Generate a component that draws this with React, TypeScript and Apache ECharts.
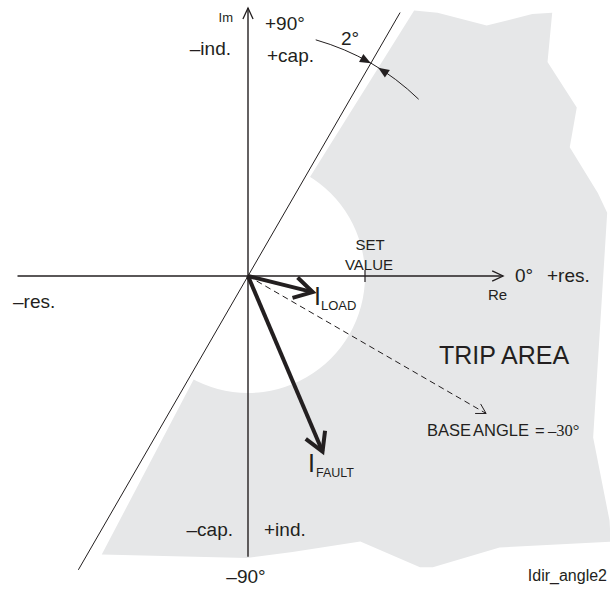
import React, { useEffect, useRef } from "react";
import * as echarts from "echarts";

// ---- Diagram data (units: 1 = set value magnitude) ----
const SET_VALUE = 1.0;
const BASE_ANGLE = -30; // degrees
const BOUNDARY_MARGIN = 2; // degrees
const CHAR_LINE_EXTENT = [-2.9, 2.6]; // along the characteristic line (base + 90°)
const RE_AXIS = [-1.97, 2.18];
const IM_AXIS = [-2.4, 2.29];
const BASE_ARROW_LENGTH = 2.35;
const MARGIN_ARC_RADIUS = 2.1;
const MARGIN_ARC_ANGLES = [74, 46];

// outer (jagged) limit of the trip area, clockwise from the +58° ray to the -118° ray
const tripOuterX = [1.42, 1.62, 2.04, 2.43, 2.6, 2.56, 2.81, 2.75, 2.99, 3.07, 2.95, 3.09, 3.1, 2.15, 1.58, 1.47, 0.96, 0.38, -0.01, -1.25];
const tripOuterY = [2.27, 2.25, 2.14, 2.24, 2.25, 1.83, 1.44, 1.1, 0.71, 0.54, -1.38, -2.09, -2.27, -2.32, -2.49, -2.49, -2.27, -2.36, -2.41, -2.38];

const phasorNames = ["LOAD", "FAULT"];
const phasorMagnitudes = [0.57, 1.63];
const phasorAngles = [-14, -67];

// ---- layout ----
const W = 610;
const H = 590;
const OX = 248;
const OY = 276;
const SCALE = 117;
const INK = "#231f20";
const GREY = "#e6e7e8";
const SANS = '"Liberation Sans", Arial, Helvetica, sans-serif';
const SERIF = '"Liberation Serif", "Times New Roman", serif';

const rad = (d: number) => (d * Math.PI) / 180;
const polar = (r: number, deg: number) => [r * Math.cos(rad(deg)), r * Math.sin(rad(deg))];

function arms(tip: number[], from: number[], len: number, half: number) {
  const dx = tip[0] - from[0];
  const dy = tip[1] - from[1];
  const l = Math.hypot(dx, dy) || 1;
  const ux = -dx / l;
  const uy = -dy / l;
  const a = rad(half);
  const r1 = [ux * Math.cos(a) - uy * Math.sin(a), ux * Math.sin(a) + uy * Math.cos(a)];
  const r2 = [ux * Math.cos(-a) - uy * Math.sin(-a), ux * Math.sin(-a) + uy * Math.cos(-a)];
  return [
    [tip[0] + r1[0] * len, tip[1] + r1[1] * len],
    tip,
    [tip[0] + r2[0] * len, tip[1] + r2[1] * len],
  ];
}

function triangle(tip: number[], from: number[], len: number, halfW: number) {
  const dx = tip[0] - from[0];
  const dy = tip[1] - from[1];
  const l = Math.hypot(dx, dy) || 1;
  const ux = dx / l;
  const uy = dy / l;
  const bx = tip[0] - ux * len;
  const by = tip[1] - uy * len;
  return [tip, [bx - uy * halfW, by + ux * halfW], [bx + uy * halfW, by - ux * halfW]];
}

function text(t: string, x: number, y: number, size: number, align = "left", family = SANS) {
  return {
    type: "text",
    x,
    y,
    z: 100,
    silent: true,
    style: { text: t, font: `${size}px ${family}`, fill: INK, align, verticalAlign: "middle" },
  };
}

export default function App() {
  const ref = useRef<HTMLDivElement>(null);
  useEffect(() => {
    const chart = echarts.init(ref.current!, null, { renderer: "svg" });
    const charAngle = BASE_ANGLE + 90;
    const option: any = {
      animation: false,
      backgroundColor: "#ffffff",
      grid: { left: 0, right: 0, top: 0, bottom: 0 },
      xAxis: { type: "value", min: -OX / SCALE, max: (W - OX) / SCALE, show: false },
      yAxis: { type: "value", min: -(H - OY) / SCALE, max: OY / SCALE, show: false },
      series: [
        {
          name: "Trip area",
          type: "custom",
          silent: true,
          z: 1,
          data: [[0, 0]],
          renderItem: (_p: any, api: any) => {
            const o = api.coord([0, 0]);
            const pts = [o, ...tripOuterX.map((x, i) => api.coord([x, tripOuterY[i]]))];
            const r = api.size([SET_VALUE, 0])[0];
            return {
              type: "group",
              children: [
                { type: "polygon", shape: { points: pts }, style: { fill: GREY } },
                { type: "circle", shape: { cx: o[0], cy: o[1], r }, style: { fill: "#ffffff" } },
              ],
            };
          },
        },
        {
          name: "Axes",
          type: "custom",
          silent: true,
          z: 3,
          data: [
            [RE_AXIS[0], 0, RE_AXIS[1], 0],
            [0, IM_AXIS[0], 0, IM_AXIS[1]],
          ],
          renderItem: (_p: any, api: any) => {
            const a = api.coord([api.value(0), api.value(1)]);
            const b = api.coord([api.value(2), api.value(3)]);
            return {
              type: "group",
              children: [
                { type: "line", shape: { x1: a[0], y1: a[1], x2: b[0], y2: b[1] }, style: { stroke: INK, lineWidth: 1.4 } },
                { type: "polyline", shape: { points: arms(b, a, 12, 25) }, style: { stroke: INK, fill: null, lineWidth: 1.3 } },
              ],
            };
          },
        },
        {
          name: "Set value",
          type: "custom",
          silent: true,
          z: 3,
          data: [[SET_VALUE, 0]],
          renderItem: (_p: any, api: any) => {
            const c = api.coord([api.value(0), api.value(1)]);
            return { type: "line", shape: { x1: c[0], y1: c[1] - 6, x2: c[0], y2: c[1] + 6 }, style: { stroke: INK, lineWidth: 1.2 } };
          },
        },
        {
          name: "Characteristic",
          type: "custom",
          silent: true,
          z: 3,
          data: [[...polar(CHAR_LINE_EXTENT[0], charAngle), ...polar(CHAR_LINE_EXTENT[1], charAngle)]],
          renderItem: (_p: any, api: any) => {
            const a = api.coord([api.value(0), api.value(1)]);
            const b = api.coord([api.value(2), api.value(3)]);
            return { type: "line", shape: { x1: a[0], y1: a[1], x2: b[0], y2: b[1] }, style: { stroke: INK, lineWidth: 1 } };
          },
        },
        {
          name: "Base angle",
          type: "custom",
          silent: true,
          z: 3,
          data: [[0, 0, ...polar(BASE_ARROW_LENGTH, BASE_ANGLE)]],
          renderItem: (_p: any, api: any) => {
            const a = api.coord([api.value(0), api.value(1)]);
            const b = api.coord([api.value(2), api.value(3)]);
            return {
              type: "group",
              children: [
                { type: "line", shape: { x1: a[0], y1: a[1], x2: b[0], y2: b[1] }, style: { stroke: INK, lineWidth: 1, lineDash: [6, 4] } },
                { type: "polyline", shape: { points: arms(b, a, 11, 30) }, style: { stroke: INK, fill: null, lineWidth: 1 } },
              ],
            };
          },
        },
        {
          name: "Margin",
          type: "custom",
          silent: true,
          z: 3,
          data: [[0, 0]],
          renderItem: (_p: any, api: any) => {
            const o = api.coord([0, 0]);
            const r = api.size([MARGIN_ARC_RADIUS, 0])[0];
            const tip1 = api.coord(polar(MARGIN_ARC_RADIUS, charAngle));
            const from1 = api.coord(polar(MARGIN_ARC_RADIUS, charAngle + 3));
            const tip2 = api.coord(polar(MARGIN_ARC_RADIUS, charAngle - BOUNDARY_MARGIN));
            const from2 = api.coord(polar(MARGIN_ARC_RADIUS, charAngle - BOUNDARY_MARGIN - 3));
            return {
              type: "group",
              children: [
                {
                  type: "arc",
                  shape: { cx: o[0], cy: o[1], r, startAngle: -rad(MARGIN_ARC_ANGLES[0]), endAngle: -rad(MARGIN_ARC_ANGLES[1]), clockwise: true },
                  style: { stroke: INK, fill: null, lineWidth: 1 },
                },
                { type: "polygon", shape: { points: triangle(tip1, from1, 11, 4.5) }, style: { fill: INK } },
                { type: "polygon", shape: { points: triangle(tip2, from2, 11, 4.5) }, style: { fill: INK } },
              ],
            };
          },
        },
        {
          name: "Phasors",
          type: "custom",
          silent: true,
          z: 4,
          data: phasorNames.map((n, i) => ({ name: n, value: polar(phasorMagnitudes[i], phasorAngles[i]) })),
          renderItem: (_p: any, api: any) => {
            const a = api.coord([0, 0]);
            const b = api.coord([api.value(0), api.value(1)]);
            return {
              type: "group",
              children: [
                { type: "line", shape: { x1: a[0], y1: a[1], x2: b[0], y2: b[1] }, style: { stroke: INK, lineWidth: 4 } },
                { type: "polyline", shape: { points: arms(b, a, 21, 30) }, style: { stroke: INK, fill: null, lineWidth: 4, lineJoin: "miter" } },
              ],
            };
          },
        },
      ],
      graphic: {
        elements: [
          text("Im", 233, 17, 13, "right"),
          text("+90°", 265, 23, 19),
          text("–ind.", 231, 48, 19, "right"),
          text("+cap.", 267, 55, 19),
          text("2°", 341, 38, 19),
          text("SET", 370, 244, 15, "center"),
          text("VALUE", 369, 264, 15, "center"),
          text("0°", 515, 275, 19),
          text("+res.", 547, 275, 19),
          text("Re", 488, 294, 15),
          text("–res.", 13, 301, 19),
          text("I", 314, 296, 25),
          text(phasorNames[0], 321, 305, 13),
          text("TRIP AREA", 439, 355, 25),
          text("BASE", 427, 430, 16.5),
          text("ANGLE", 473, 430, 16.5),
          text("=", 535, 430, 16.5),
          text("–30°", 548, 430, 16.5, "left", SERIF),
          text("I", 308, 463, 25),
          text(phasorNames[1], 316, 473, 12.5),
          text("–cap.", 233, 529, 19, "right"),
          text("+ind.", 264, 529, 19),
          text("–90°", 246, 576, 19, "center"),
          text("Idir_angle2", 607, 575, 16, "right"),
        ],
      },
    };
    chart.setOption(option);
    return () => chart.dispose();
  }, []);
  return (
    <div
      ref={ref}
      style={{ position: "fixed", left: 0, top: 0, width: W, height: H, background: "#ffffff" }}
    />
  );
}
